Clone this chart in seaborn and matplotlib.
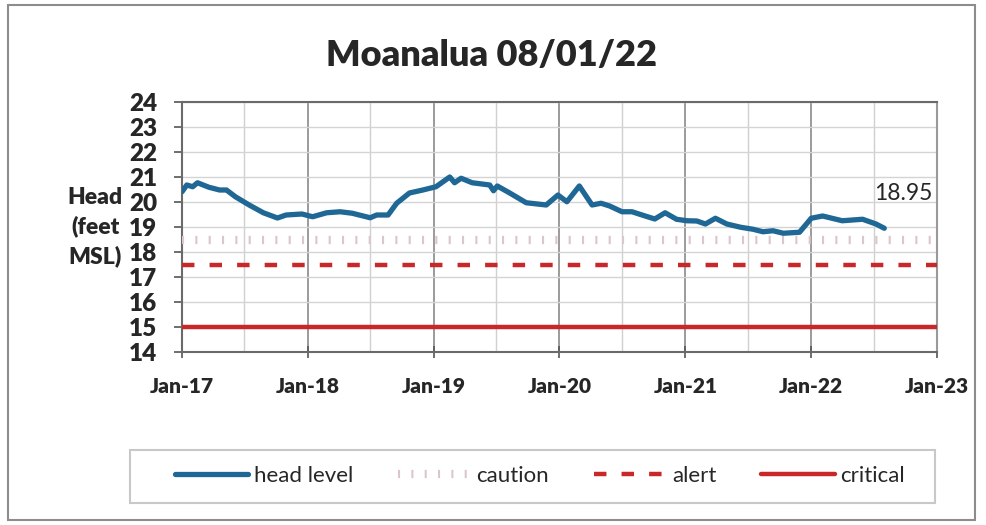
import matplotlib
matplotlib.use("Agg")
import matplotlib.pyplot as plt
import matplotlib.patches as mpatches
import seaborn as sns
import pandas as pd

dates = ["2017-01-01","2017-01-15","2017-02-01","2017-02-15","2017-03-20","2017-04-20","2017-05-10",
         "2017-06-05","2017-07-15","2017-08-25","2017-10-05","2017-10-30","2017-12-15","2018-01-15",
         "2018-02-25","2018-04-05","2018-05-10","2018-07-01","2018-07-20","2018-08-22","2018-09-16",
         "2018-10-23","2018-12-01","2019-01-08","2019-02-17","2019-03-03","2019-03-22","2019-04-23",
         "2019-06-13","2019-06-24","2019-07-05","2019-08-10","2019-09-27","2019-11-24","2019-12-28",
         "2020-01-23","2020-02-28","2020-04-05","2020-05-01","2020-05-26","2020-07-01","2020-07-30",
         "2020-08-28","2020-10-04","2020-11-03","2020-12-06","2021-01-05","2021-02-03","2021-02-28",
         "2021-03-29","2021-05-01","2021-06-10","2021-07-16","2021-08-14","2021-09-12","2021-10-12",
         "2021-11-28","2022-01-01","2022-02-03","2022-04-01","2022-05-30","2022-07-08","2022-08-01"]
head = [20.41,20.68,20.61,20.77,20.59,20.48,20.48,
        20.21,19.88,19.57,19.36,19.48,19.52,19.41,
        19.57,19.61,19.55,19.37,19.48,19.48,19.95,
        20.36,20.48,20.61,21.00,20.77,20.95,20.77,
        20.68,20.45,20.64,20.36,19.97,19.88,20.28,
        20.01,20.64,19.88,19.95,19.84,19.61,19.61,
        19.48,19.32,19.57,19.31,19.25,19.24,19.12,
        19.35,19.12,18.99,18.91,18.81,18.85,18.75,
        18.79,19.35,19.44,19.25,19.31,19.12,18.95]

limit_dates = ["2017-01-01", "2023-01-01"]
caution = [18.5, 18.5]
alert = [17.5, 17.5]
critical = [15.0, 15.0]

xtick_dates = ["2017-01-01","2018-01-01","2019-01-01","2020-01-01","2021-01-01","2022-01-01","2023-01-01"]
xtick_labels = ["Jan-17","Jan-18","Jan-19","Jan-20","Jan-21","Jan-22","Jan-23"]
yticks = list(range(14, 25))

sns.set_style("white")
plt.rcParams["font.family"] = ["Lato", "DejaVu Sans"]

df = pd.DataFrame({"date": pd.to_datetime(dates), "head": head})
lim = pd.DataFrame({"date": pd.to_datetime(limit_dates), "caution": caution,
                    "alert": alert, "critical": critical})

fig = plt.figure(figsize=(9.87, 5.25), dpi=100)
ax = fig.add_axes([182/987, 1-352/525, 755/987, 250/525])

sns.lineplot(data=lim, x="date", y="caution", ax=ax, color="#dcc6cb", lw=6,
             label="caution", zorder=3)
ax.lines[-1].set_dashes((0.25, 1.35))
ax.lines[-1].set_dash_capstyle("butt")
sns.lineplot(data=lim, x="date", y="alert", ax=ax, color="#c8282a", lw=3.2,
             label="alert", zorder=3)
ax.lines[-1].set_dashes((2.8, 3.4))
ax.lines[-1].set_dash_capstyle("butt")
sns.lineplot(data=lim, x="date", y="critical", ax=ax, color="#c8282a", lw=3.2,
             label="critical", zorder=3)
sns.lineplot(data=df, x="date", y="head", ax=ax, color="#1f6794", lw=3.8,
             label="head level", zorder=4)

ax.set_xlim(pd.Timestamp(xtick_dates[0]), pd.Timestamp(xtick_dates[-1]))
ax.set_ylim(14, 24)
ax.set_xticks(pd.to_datetime(xtick_dates))
ax.set_xticklabels(xtick_labels, fontsize=15, fontweight="heavy")
minor = pd.to_datetime([f"{y}-07-01" for y in range(2017, 2023)])
ax.set_xticks(minor, minor=True)
ax.set_yticks(yticks)
ax.set_yticklabels([str(v) for v in yticks], fontsize=17.5, fontweight="heavy")

ax.grid(True, which="major", axis="y", color="#d4d4d4", lw=1.0)
ax.grid(True, which="major", axis="x", color="#8a8a8a", lw=1.2)
ax.grid(True, which="minor", axis="x", color="#d0d0d0", lw=1.0)
ax.tick_params(axis="y", which="major", direction="out", length=6, width=1.2, color="#555555", pad=12, left=True)
ax.tick_params(axis="x", which="major", direction="inout", length=8, width=1.2, color="#555555", pad=14, bottom=True)
ax.tick_params(axis="x", which="minor", length=0)
for s in ax.spines.values():
    s.set_color("#6a6a6a")
    s.set_linewidth(1.5)
ax.spines["right"].set_color("#9a9a9a")
ax.set_xlabel("")
ax.set_ylabel("Head\n(feet\nMSL)", rotation=0, fontsize=16.5, fontweight="heavy",
              ha="center", va="center", labelpad=0, linespacing=1.45)
ax.yaxis.set_label_coords(-0.115, 0.50)

ax.annotate(f"{head[-1]:.2f}", xy=(pd.Timestamp(dates[-1]), head[-1]),
            xytext=(14, 25), textcoords="offset points", fontsize=16.5,
            ha="center", va="center")

fig.suptitle("Moanalua 08/01/22", x=0.498, y=1-55/525, va="center",
             fontsize=26, fontweight="heavy")

handles, labels = ax.get_legend_handles_labels()
if ax.get_legend() is not None:
    ax.get_legend().remove()
order = [labels.index(n) for n in ["head level", "caution", "alert", "critical"]]
leg = fig.legend([handles[i] for i in order], [labels[i] for i in order],
                 loc="center", bbox_to_anchor=(540/987, 1-476/525),
                 ncol=4, fontsize=16, frameon=False,
                 handlelength=3.3, handletextpad=0.25, columnspacing=2.0)

fig.patches.append(mpatches.Rectangle((130/987, 1-503/525), 805/987, 53/525,
                                      transform=fig.transFigure, fill=False,
                                      edgecolor="#c8c8c8", lw=1.5))
fig.patches.append(mpatches.Rectangle((8/987, 5/525), 967/987, 515/525,
                                      transform=fig.transFigure, fill=False,
                                      edgecolor="#8c8c8c", lw=1.5))

fig.savefig("out.png", dpi=100)
